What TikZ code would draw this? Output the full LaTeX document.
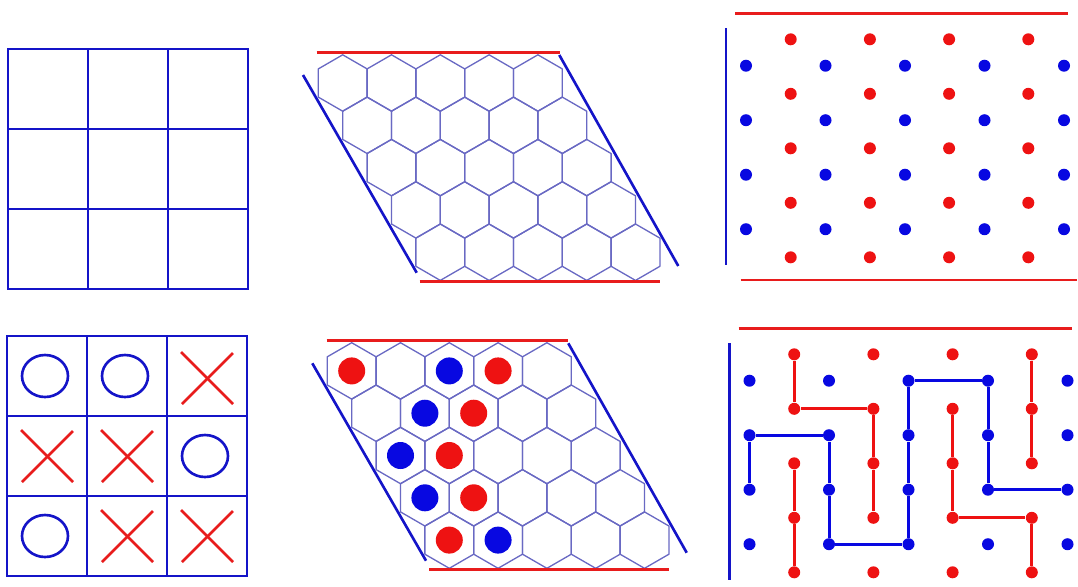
\documentclass[tikz,border=0pt]{standalone}
\definecolor{tblue}{RGB}{20,20,200}
\definecolor{tred}{RGB}{232,28,28}
\definecolor{dblue}{RGB}{8,8,225}
\definecolor{dred}{RGB}{238,18,18}
\definecolor{hexc}{RGB}{105,105,195}
\tikzset{
  gridline/.style={draw=tblue,line width=1.5pt},
  oshape/.style={draw=tblue,line width=1.5pt},
  xshape/.style={draw=tred,line width=1.5pt},
  hexline/.style={draw=hexc,line width=0.75pt,line join=round},
  rededge/.style={draw=tred,line width=1.5pt},
  blueedge/.style={draw=tblue,line width=1.5pt},
  rdisc/.style={circle,fill=dred,inner sep=0pt,minimum size=0.54cm},
  bdisc/.style={circle,fill=dblue,inner sep=0pt,minimum size=0.54cm},
  rdot/.style={circle,fill=dred,inner sep=0pt,minimum size=0.24cm},
  bdot/.style={circle,fill=dblue,inner sep=0pt,minimum size=0.24cm},
  rconn/.style={draw=dred,line width=1.7pt},
  bconn/.style={draw=dblue,line width=1.7pt},
}
\begin{document}
\begin{tikzpicture}[x=0.02cm,y=-0.02cm]
\useasboundingbox (0,0) rectangle (1078,586);

% ---------- Tic-tac-toe, empty ----------
\draw[gridline] (8,49) rectangle (248,289);
\draw[gridline] (88,49) -- (88,289) (168,49) -- (168,289)
                (8,129) -- (248,129) (8,209) -- (248,209);

% ---------- Tic-tac-toe, played ----------
\begin{scope}[shift={(7,336)}]
\draw[gridline,line width=1.3pt] (0,0) rectangle (240,240);
\draw[gridline,line width=1.3pt] (80,0) -- (80,240) (160,0) -- (160,240)
                (0,80) -- (240,80) (0,160) -- (240,160);
% O's
\draw[oshape] (38,40) ellipse [x radius=23,y radius=21];
\draw[oshape] (118,40) ellipse [x radius=23,y radius=21];
\draw[oshape] (198,120) ellipse [x radius=23,y radius=21];
\draw[oshape] (38,200) ellipse [x radius=23,y radius=21];
% X's
\foreach \cx/\cy in {200/42, 40/120, 120/120, 120/200, 200/200}{
  \draw[xshape] (\cx-26,\cy-26) -- (\cx+26,\cy+26);
  \draw[xshape] (\cx-25,\cy+26) -- (\cx+26,\cy-25);
}
\end{scope}

% ---------- Hex, empty ----------
\begin{scope}[shift={(342.7,83)}]
\foreach \r in {0,...,4}{
  \foreach \c in {0,...,4}{
    \pgfmathsetmacro\hx{\c*48.8+\r*24.4}
    \pgfmathsetmacro\hy{\r*42.3}
    \draw[hexline] (\hx,\hy) +(0,-28.2) -- +(24.4,-14.1) -- +(24.4,14.1) -- +(0,28.2) -- +(-24.4,14.1) -- +(-24.4,-14.1) -- cycle;
  }
}
\draw[rededge] (-26,-30.3) -- (217,-30.3);
\draw[rededge] (77,198.3) -- (317.5,198.3);
\draw[blueedge] (-39.7,-8) -- (74,189.7);
\draw[blueedge] (216.6,-28) -- (335.6,183);
\end{scope}

% ---------- Hex, played ----------
\begin{scope}[shift={(351.7,370.9)}]
\foreach \r in {0,...,4}{
  \foreach \c in {0,...,4}{
    \pgfmathsetmacro\hx{\c*48.8+\r*24.4}
    \pgfmathsetmacro\hy{\r*42.3}
    \draw[hexline] (\hx,\hy) +(0,-28.2) -- +(24.4,-14.1) -- +(24.4,14.1) -- +(0,28.2) -- +(-24.4,14.1) -- +(-24.4,-14.1) -- cycle;
  }
}
\draw[rededge] (-25,-30.2) -- (216.6,-30.2);
\draw[rededge] (77.6,198.4) -- (317.6,198.4);
\draw[blueedge] (-39.4,-7.6) -- (74.3,189.8);
\draw[blueedge] (216.6,-27.6) -- (335,181.8);
% discs: (row, col)
\foreach \r/\c/\n in {0/0/a, 0/3/b, 1/2/c, 2/1/d, 3/1/e, 4/0/f}{
  \node[rdisc] (hr\n) at ({\c*48.8+\r*24.4},{\r*42.3}) {};
}
\foreach \r/\c/\n in {0/2/a, 1/1/b, 2/0/c, 3/0/d, 4/1/e}{
  \node[bdisc] (hb\n) at ({\c*48.8+\r*24.4},{\r*42.3}) {};
}
\end{scope}

% ---------- Bridg-it, empty ----------
\draw[rededge] (735,13.3) -- (1068.3,13.3);
\draw[rededge] (740.7,280) -- (1076.7,280);
\draw[blueedge] (726,28.3) -- (726,265);
\foreach \i in {0,...,4}{
  \foreach \k in {0,...,3}{
    \node[bdot] (tb\i\k) at ({746+79.5*\i},{65.7+54.5*\k}) {};
  }
}
\foreach \j in {0,...,3}{
  \foreach \k in {0,...,4}{
    \node[rdot] (tr\j\k) at ({790.7+79.2*\j},{39.3+54.5*\k}) {};
  }
}

% ---------- Bridg-it, played ----------
\begin{scope}[shift={(3.5,315)}]
\draw[rededge] (735,13.3) -- (1068.3,13.3);
\draw[blueedge] (726,28.3) -- (726,265);
\foreach \i in {0,...,4}{
  \foreach \k in {0,...,3}{
    \node[bdot] (bb\i\k) at ({746+79.5*\i},{65.7+54.5*\k}) {};
  }
}
\foreach \j in {0,...,3}{
  \foreach \k in {0,...,4}{
    \node[rdot] (br\j\k) at ({790.7+79.2*\j},{39.3+54.5*\k}) {};
  }
}
\end{scope}
% red bridges
\draw[rconn] (br00) -- (br01) -- (br11) -- (br12) -- (br13);
\draw[rconn] (br02) -- (br03) -- (br04);
\draw[rconn] (br21) -- (br22) -- (br23) -- (br33) -- (br34);
\draw[rconn] (br30) -- (br31) -- (br32);
% blue bridges
\draw[bconn] (bb02) -- (bb01) -- (bb11) -- (bb12) -- (bb13) -- (bb23) -- (bb22) -- (bb21) -- (bb20) -- (bb30) -- (bb31) -- (bb32) -- (bb42);
\end{tikzpicture}
\end{document}
